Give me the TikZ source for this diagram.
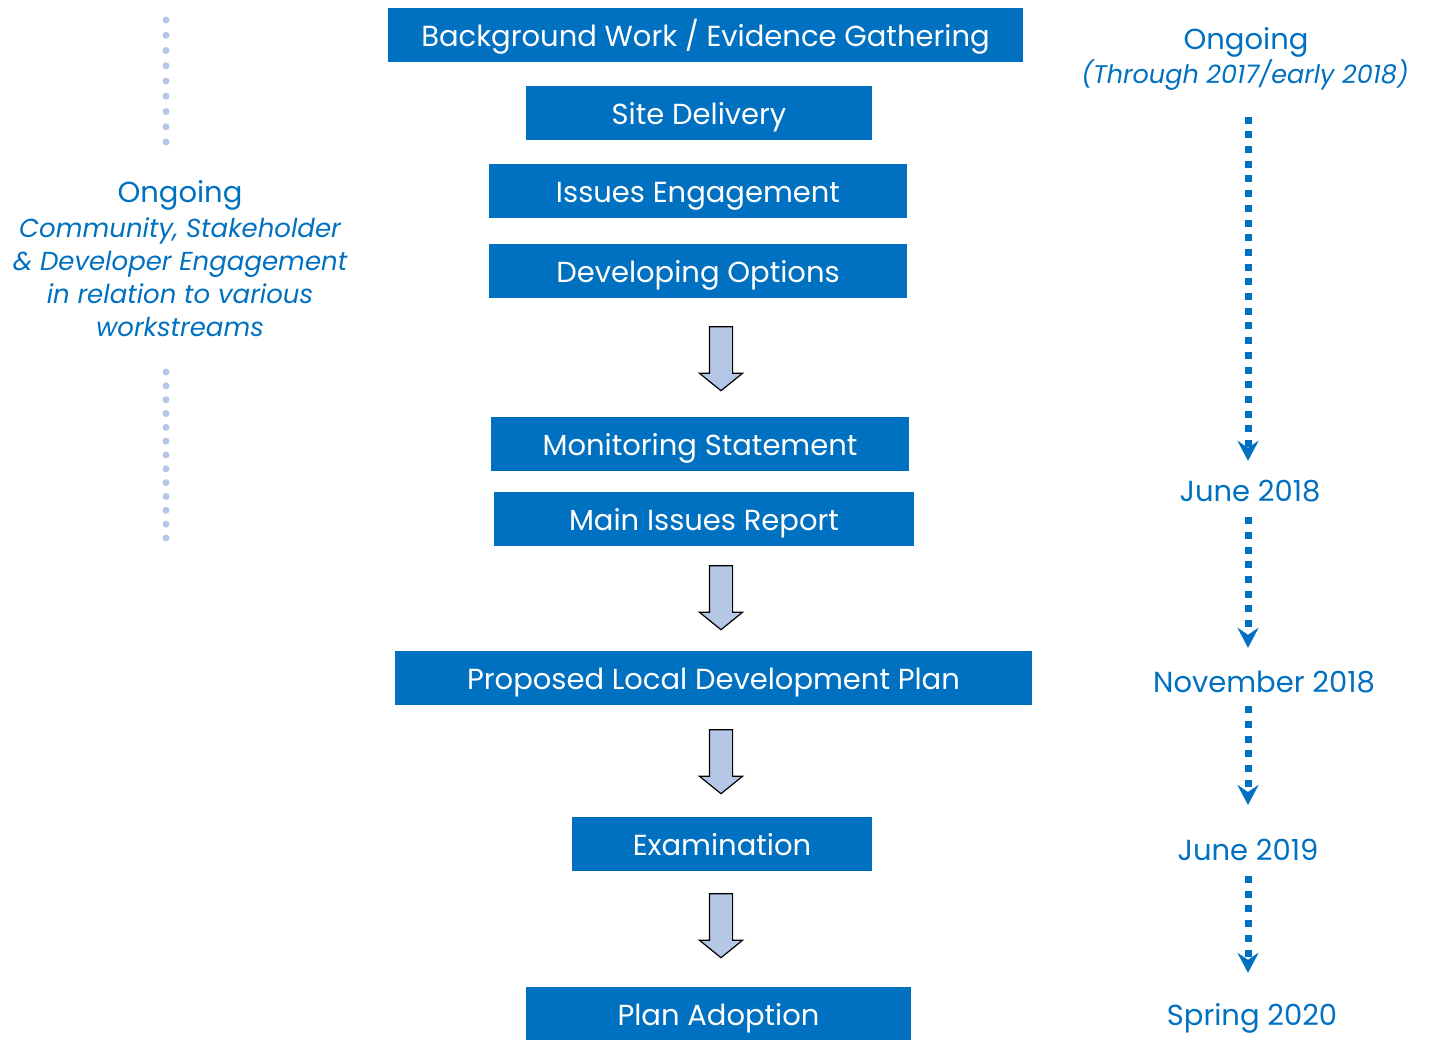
\documentclass[tikz,border=0pt]{standalone}
\usepackage{fontspec}
\setmainfont{Poppins}
\usetikzlibrary{arrows.meta,shapes.arrows}
\definecolor{boxblue}{HTML}{0070C0}
\definecolor{paleblue}{HTML}{B4C7E7}
\begin{document}
\begin{tikzpicture}
  [x=1pt,y=-1pt,
   stage/.style={rectangle,fill=boxblue,text=white,minimum height=54pt,inner sep=0pt,
     text height=22pt,text depth=0pt,font=\fontsize{29}{33}\selectfont},
   when/.style={text=boxblue,align=center,inner sep=0pt,font=\fontsize{29}{33}\selectfont},
   next/.style={single arrow,shape border rotate=270,draw=black,fill=paleblue,line width=1.2pt,
     inner sep=11pt,minimum height=64pt,minimum width=42pt,
     single arrow head extend=10pt,single arrow tip angle=102},
   timeline/.style={draw=boxblue,line width=7pt,dash pattern=on 7pt off 7.7pt,
     -{Stealth[length=20pt,width=21pt,inset=7pt]}}]
  \useasboundingbox (0,0) rectangle (1429,1039);

  % the stages
  \node[stage,minimum width=635pt] (gather) at (705.5,35)  {Background Work / Evidence Gathering};
  \node[stage,minimum width=346pt] (site)   at (699,113)   {Site Delivery};
  \node[stage,minimum width=418pt] (issues) at (698,191)   {Issues Engagement};
  \node[stage,minimum width=418pt] (options) at (698,271)  {Developing Options};
  \node[stage,minimum width=418pt] (monitor) at (700,444)  {Monitoring Statement};
  \node[stage,minimum width=420pt] (mir)    at (704,519)   {Main Issues Report};
  \node[stage,minimum width=637pt] (pldp)   at (713.5,678) {Proposed Local Development Plan};
  \node[stage,minimum width=300pt] (exam)   at (722,844)   {Examination};
  \node[stage,minimum width=385pt] (adopt)  at (718.5,1014) {Plan Adoption};

  % arrows between stages
  \node[next] (a1) at (721,354) {};
  \node[next] (a2) at (721,593) {};
  \node[next] (a3) at (721,757) {};
  \node[next] (a4) at (721,921) {};

  % timescales
  \coordinate (spine) at (1248,0);
  \node[when] (t0) at (1246,42) {Ongoing};
  \node[when,font=\fontsize{25.5}{30}\selectfont\itshape] (t0b) at (1245,75) {(Through 2017/early 2018)};
  \node[when] (t1) at (1250,491) {June 2018};
  \node[when] (t2) at (1264,682) {November 2018};
  \node[when] (t3) at (1248,850) {June 2019};
  \node[when] (t4) at (1252,1018) {Spring 2020};

  \draw[timeline] (t0b.south -| spine) ++(0,26) -- ([yshift=19pt]t1.north -| spine);
  \draw[timeline] ([yshift=-15pt]t1.south -| spine) -- ([yshift=23pt]t2.north -| spine);
  \draw[timeline] ([yshift=-13pt]t2.south -| spine) -- ([yshift=34pt]t3.north -| spine);
  \draw[timeline] ([yshift=-15pt]t3.south -| spine) -- ([yshift=30pt]t4.north -| spine);

  % engagement
  \node[when] (engage) at (180,195) {Ongoing};
  \node[when,font=\fontsize{26}{33}\selectfont\itshape] (engageb) at (180,277)
    {Community, Stakeholder\\\& Developer Engagement\\in relation to various\\workstreams};
  \foreach \i in {0,...,8}
    \fill[paleblue] (166,20+15.25*\i) circle (3.5pt);
  \foreach \i in {0,...,12}
    \fill[paleblue] (166,372+13.83*\i) circle (3.5pt);
\end{tikzpicture}
\end{document}
